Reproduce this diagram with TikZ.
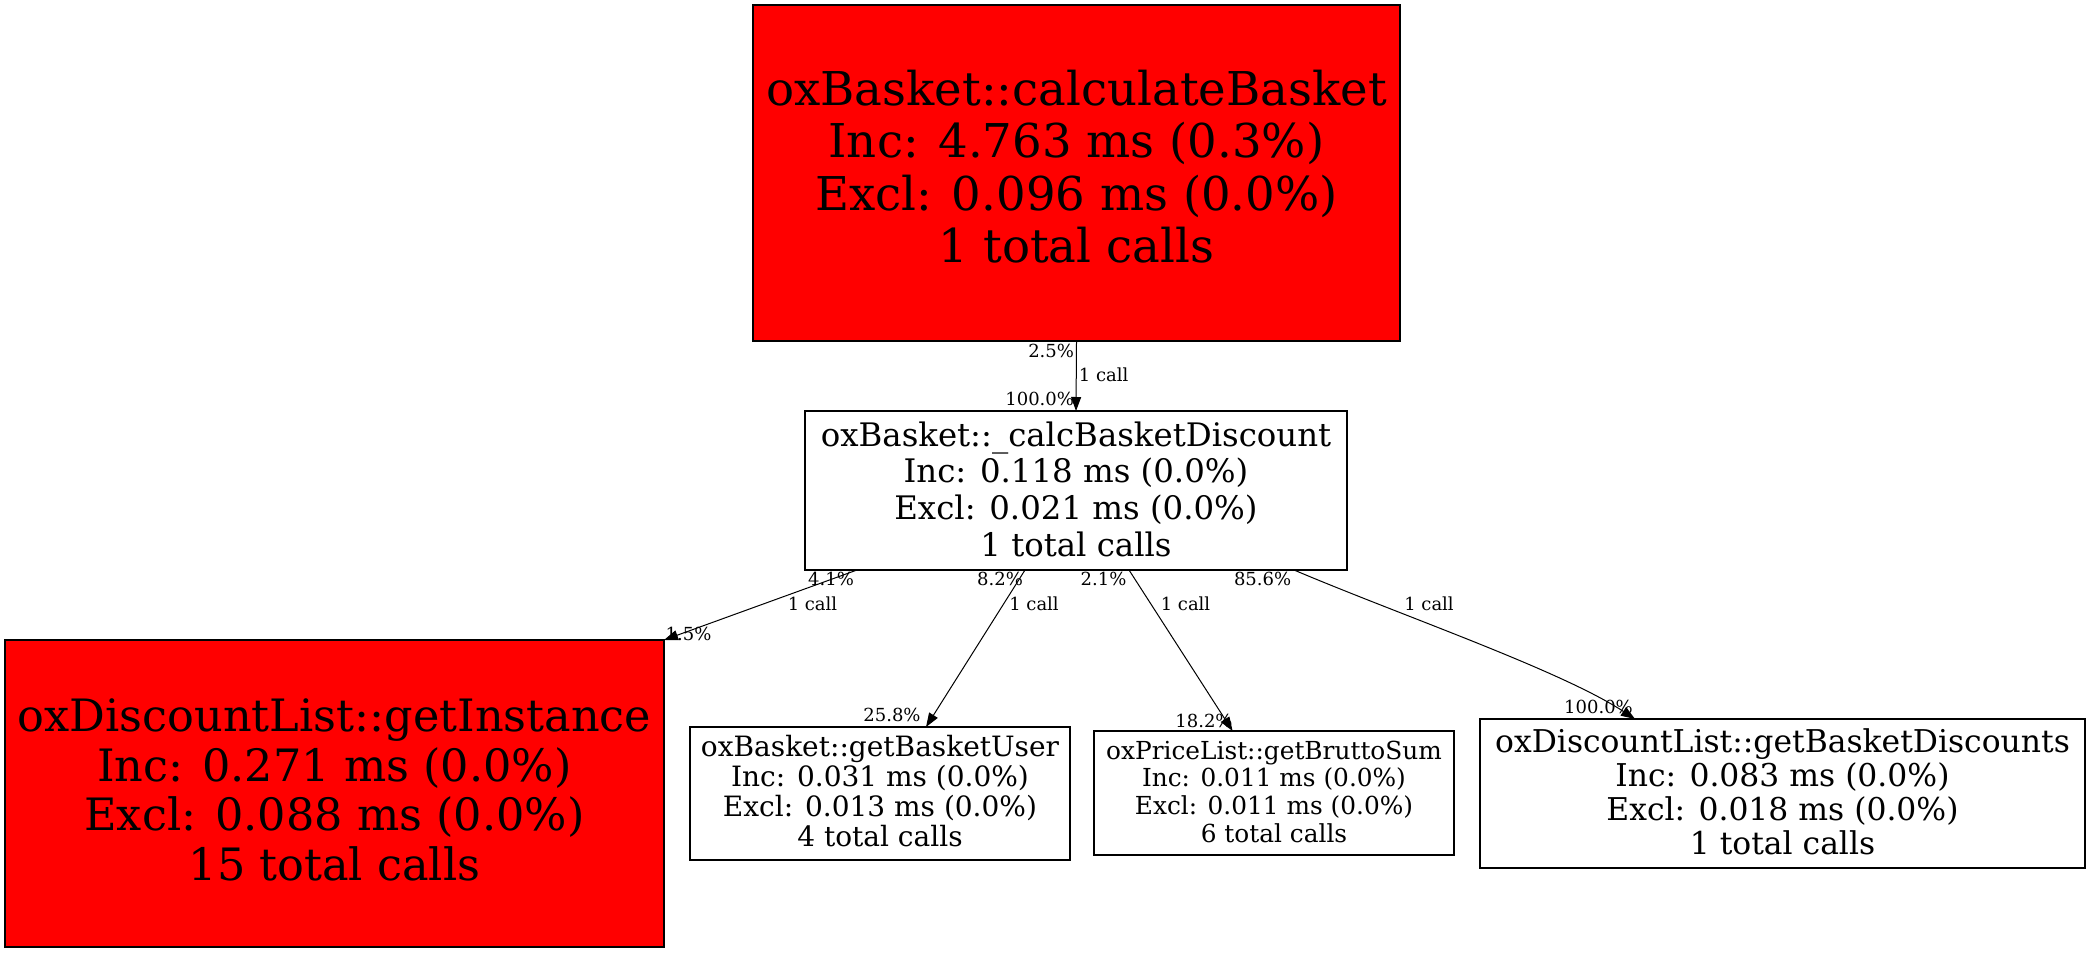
\documentclass[tikz,border=0pt]{standalone}
\usepackage{fontspec}
\setmainfont{DejaVu Serif}
\usetikzlibrary{arrows.meta}
\begin{document}
\begin{tikzpicture}[x=0.5pt,y=-0.5pt,
  fn/.style={draw=black, line width=0.6pt, inner sep=0pt, outer sep=0pt, align=center},
  hot/.style={fn, fill=red},
  lbl/.style={inner sep=0pt, outer sep=0pt, font=\fontsize{9}{10}\selectfont},
  edge/.style={draw=black, line width=0.5pt, -{Triangle[length=7pt,width=5pt]}}]
\useasboundingbox (0,0) rectangle (2091,952);

\node[hot, minimum width=323.5pt, minimum height=168pt, text depth=6.7pt, font=\fontsize{23.3}{26.2}\selectfont] (top) at (1076.5,173)
  {oxBasket::calculateBasket\\Inc: 4.763 ms (0.3\%)\\Excl: 0.096 ms (0.0\%)\\1 total calls};
\node[fn, minimum width=271pt, minimum height=79.5pt, text depth=1.6pt, font=\fontsize{16.2}{18.35}\selectfont] (mid) at (1076,490.5)
  {oxBasket::\_calcBasketDiscount\\Inc: 0.118 ms (0.0\%)\\Excl: 0.021 ms (0.0\%)\\1 total calls};
\node[hot, minimum width=329.5pt, minimum height=153.5pt, text depth=4pt, font=\fontsize{22.3}{24.7}\selectfont] (inst) at (334.5,793.5)
  {oxDiscountList::getInstance\\Inc: 0.271 ms (0.0\%)\\Excl: 0.088 ms (0.0\%)\\15 total calls};
\node[fn, minimum width=190pt, minimum height=66.5pt, text depth=2.6pt, font=\fontsize{14}{15}\selectfont] (user) at (880,793.5)
  {oxBasket::getBasketUser\\Inc: 0.031 ms (0.0\%)\\Excl: 0.013 ms (0.0\%)\\4 total calls};
\node[fn, minimum width=180pt, minimum height=62pt, text depth=1.4pt, font=\fontsize{12.4}{13.85}\selectfont] (brutto) at (1274,793)
  {oxPriceList::getBruttoSum\\Inc: 0.011 ms (0.0\%)\\Excl: 0.011 ms (0.0\%)\\6 total calls};
\node[fn, minimum width=302.5pt, minimum height=74.5pt, text depth=2pt, font=\fontsize{15.7}{17}\selectfont] (disc) at (1782.5,793.5)
  {oxDiscountList::getBasketDiscounts\\Inc: 0.083 ms (0.0\%)\\Excl: 0.018 ms (0.0\%)\\1 total calls};

% connectors
\draw[edge] (top.south) -- (mid.north);
\draw[edge] ([xshift=-109.5pt]mid.south) -- (inst.north east);
\draw[edge] ([xshift=-25.5pt]mid.south) -- ([xshift=23pt]user.north);
\draw[edge] ([xshift=26.5pt]mid.south) -- ([xshift=-20.7pt]brutto.north);
\draw[edge] ([xshift=109pt]mid.south) .. controls (1400,615) and (1560,670) .. ([xshift=-73.75pt]disc.north);

% edge labels
\node[lbl, anchor=east] (l1a) at (1074,350.5) {2.5\%};
\node[lbl] (l1b) at (1103.6,374.5) {1 call};
\node[lbl, anchor=east] (l1c) at (1074,398.5) {100.0\%};

\node[lbl] (l2a) at (831,579) {4.1\%};
\node[lbl] (l2b) at (812.5,604) {1 call};
\node[lbl] (l2c) at (688.5,634) {1.5\%};

\node[lbl] (l3a) at (1000,579) {8.2\%};
\node[lbl] (l3b) at (1034,604) {1 call};
\node[lbl] (l3c) at (892,714.5) {25.8\%};

\node[lbl] (l4a) at (1103.5,579) {2.1\%};
\node[lbl] (l4b) at (1185.5,604) {1 call};
\node[lbl] (l4c) at (1204,721) {18.2\%};

\node[lbl] (l5a) at (1262.6,579) {85.6\%};
\node[lbl] (l5b) at (1429,604) {1 call};
\node[lbl] (l5c) at (1598.5,707) {100.0\%};
\end{tikzpicture}
\end{document}
